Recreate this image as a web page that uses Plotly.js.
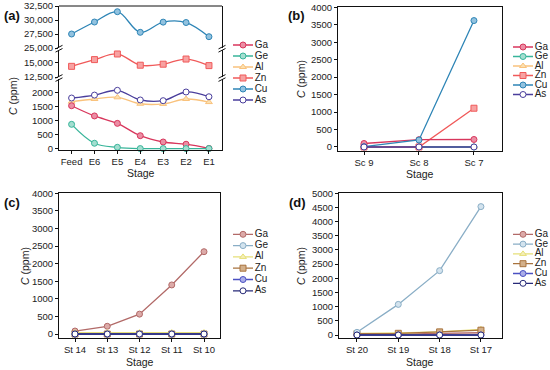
<!DOCTYPE html>
<html><head><meta charset="utf-8">
<script src="https://cdn.plot.ly/plotly-3.0.1.min.js"></script>
<style>html,body{margin:0;padding:0;background:#fff}#chart{width:550px;height:370px}</style>
</head><body><div id="chart"></div>
<script>
// ---------- data ----------
const elements = ['Ga', 'Ge', 'Al', 'Zn', 'Cu', 'As'];

const stagesA = ['Feed', 'E6', 'E5', 'E4', 'E3', 'E2', 'E1'];
const gaA = [1535, 1170, 905, 465, 240, 160, 10];
const geA = [870, 195, 50, 5, 5, 5, 5];
const alA = [1680, 1775, 1835, 1605, 1600, 1775, 1665];
const znA = [14400, 15600, 16600, 14600, 14780, 15700, 14530];
const cuA = [27500, 29640, 31480, 27800, 29620, 29550, 27020];
const asA = [1810, 1915, 2085, 1740, 1715, 2025, 1855];

const stagesB = ['Sc 9', 'Sc 8', 'Sc 7'];
const gaB = [100, 210, 215];
const geB = [0, 0, 0];
const alB = [5, 5, 5];
const znB = [0, 0, 1110];
const cuB = [10, 200, 3620];
const asB = [0, 0, 0];

const stagesC = ['St 14', 'St 13', 'St 12', 'St 11', 'St 10'];
const gaC = [85, 220, 565, 1395, 2340];
const geC = [0, 0, 0, 0, 0];
const alC = [40, 40, 40, 40, 40];
const znC = [0, 0, 0, 0, 0];
const cuC = [0, 0, 0, 0, 0];
const asC = [0, 0, 0, 0, 0];

const stagesD = ['St 20', 'St 19', 'St 18', 'St 17'];
const gaD = [30, 30, 60, 80];
const geD = [95, 1080, 2270, 4530];
const alD = [60, 70, 110, 200];
const znD = [50, 60, 110, 170];
const cuD = [0, 0, 0, 0];
const asD = [0, 0, 0, 0];

const ticksA_low = [0, 500, 1000, 1500, 2000];
const ticksA_mid = [12500, 15000];
const ticksA_top = [25000, 27500, 30000, 32500];
const ticksB = [0, 500, 1000, 1500, 2000, 2500, 3000, 3500, 4000];
const ticksC = [0, 500, 1000, 1500, 2000, 2500, 3000, 3500, 4000];
const ticksD = [0, 500, 1000, 1500, 2000, 2500, 3000, 3500, 4000, 4500, 5000];

// ---------- styles ----------
const symbols = ['circle', 'circle', 'triangle-up', 'square', 'circle', 'circle'];
const lineAB = ['#d8365c', '#38b59a', '#f9c27c', '#f05a5a', '#2e85b6', '#4a3e9c'];
const fillAB = ['#eb8ea4', '#a4ded0', '#fbe0b0', '#f7a2a2', '#92c2df', '#ffffff'];
const lineCD = ['#b26a68', '#8aaec6', '#e6df78', '#a8733e', '#4b51c2', '#272a78'];
const fillCD = ['#dcaaa8', '#d3e3ee', '#f4efb8', '#d3b08a', '#aaade8', '#ffffff'];

const FONT = 'Liberation Sans, Arial, sans-serif';
const W = 550, H = 370;
const px = v => v / W;
const py = v => 1 - v / H;

const traces = [];
function addSeries(x, y, i, xa, ya, colors, fills, spline) {
  traces.push({
    type: 'scatter', mode: 'lines+markers', x: x, y: y, name: elements[i],
    xaxis: xa, yaxis: ya, showlegend: false, cliponaxis: false,
    line: {color: colors[i], width: 1.3, shape: spline ? 'spline' : 'linear', smoothing: 1},
    marker: {symbol: symbols[i], size: 6, color: fills[i], line: {color: colors[i], width: 1}}
  });
}

// panel a
const seriesA = [gaA, geA, alA, znA, cuA, asA];
const yA = ['y', 'y', 'y', 'y2', 'y3', 'y'];
[2, 0, 1, 3, 4, 5].forEach(i => addSeries(stagesA, seriesA[i], i, 'x', yA[i], lineAB, fillAB, true));
// panel b
const seriesB = [gaB, geB, alB, znB, cuB, asB];
[2, 1, 3, 0, 4, 5].forEach(i => addSeries(stagesB, seriesB[i], i, 'x2', 'y4', lineAB, fillAB, false));
// panel c
const seriesC = [gaC, geC, alC, znC, cuC, asC];
[0, 3, 1, 2, 4, 5].forEach(i => addSeries(stagesC, seriesC[i], i, 'x3', 'y5', lineCD, fillCD, false));
// panel d
const seriesD = [gaD, geD, alD, znD, cuD, asD];
[0, 2, 3, 1, 4, 5].forEach(i => addSeries(stagesD, seriesD[i], i, 'x4', 'y6', lineCD, fillCD, false));

// compact legends drawn on hidden axes
function addLegend(xa, ya, colors, fills) {
  elements.forEach((name, i) => {
    traces.push({
      type: 'scatter', mode: 'lines+markers+text', x: [0, 0.5, 1], y: [i, i, i],
      text: ['', '', name], textposition: 'middle right',
      textfont: {family: FONT, size: 10, color: '#222'},
      xaxis: xa, yaxis: ya, showlegend: false, cliponaxis: false, hoverinfo: 'skip',
      line: {color: colors[i], width: 1.3},
      marker: {symbol: symbols[i], size: [1, 6, 1], opacity: [0, 1, 0], color: fills[i], line: {color: colors[i], width: 1}}
    });
  });
}
addLegend('x5', 'y7', lineAB, fillAB);
addLegend('x6', 'y8', lineAB, fillAB);
addLegend('x7', 'y9', lineCD, fillCD);
addLegend('x8', 'y10', lineCD, fillCD);

// ---------- axes ----------
const tickF = {family: FONT, size: 9.5, color: '#222'};
function xAx(dom, anchor, range, mirror) {
  return {domain: [px(dom[0]), px(dom[1])], anchor: anchor, type: 'category', range: range,
    showline: true, linecolor: '#111', linewidth: 1, mirror: mirror, ticks: 'outside', ticklen: 3,
    tickcolor: '#111', showgrid: false, zeroline: false, tickfont: tickF, fixedrange: true};
}
function yAx(dom, anchor, range, tickvals, fmt) {
  return {domain: [py(dom[1]), py(dom[0])], anchor: anchor, range: range, tickvals: tickvals,
    tickformat: fmt, showline: true, linecolor: '#111', linewidth: 1, mirror: true, ticks: 'outside',
    ticklen: 3, tickcolor: '#111', showgrid: false, zeroline: false, tickfont: tickF, fixedrange: true};
}
function hidAx(dom, range, isY) {
  const d = isY ? [py(dom[1]), py(dom[0])] : [px(dom[0]), px(dom[1])];
  return {domain: d, range: range, visible: false, fixedrange: true, showgrid: false, zeroline: false};
}

const layout = {
  width: W, height: H, margin: {l: 0, r: 0, t: 0, b: 0},
  paper_bgcolor: '#fff', plot_bgcolor: 'rgba(0,0,0,0)', showlegend: false,
  font: {family: FONT, color: '#222'},
  xaxis: xAx([59, 222], 'y', [-0.55, 6.57], false),
  yaxis: yAx([79, 150], 'x', [-46, 2489], ticksA_low, 'd'),
  yaxis2: yAx([49.5, 77], 'x', [12500, 17400], ticksA_mid, ',d'),
  yaxis3: yAx([6, 48], 'x', [25000, 32500], ticksA_top, ',d'),
  xaxis2: xAx([338, 502], 'y4', [-0.473, 2.51], true),
  yaxis4: yAx([7.3, 151], 'x2', [-115, 4000], ticksB, 'd'),
  xaxis3: xAx([59, 220], 'y5', [-0.496, 4.496], true),
  yaxis5: yAx([193.3, 337.7], 'x3', [-105, 4000], ticksC, 'd'),
  xaxis4: xAx([339, 502], 'y6', [-0.435, 3.51], true),
  yaxis6: yAx([193.3, 337.7], 'x4', [-95, 5000], ticksD, 'd'),
  xaxis5: hidAx([233, 253], [0, 1], false),
  yaxis7: Object.assign(hidAx([39.5, 105.5], [5.5, -0.5], true), {anchor: 'x5'}),
  xaxis6: hidAx([513, 533], [0, 1], false),
  yaxis8: Object.assign(hidAx([42.25, 99.25], [5.5, -0.5], true), {anchor: 'x6'}),
  xaxis7: hidAx([233, 253], [0, 1], false),
  yaxis9: Object.assign(hidAx([228.65, 296.45], [5.5, -0.5], true), {anchor: 'x7'}),
  xaxis8: hidAx([513, 533], [0, 1], false),
  yaxis10: Object.assign(hidAx([229.4, 288.2], [5.5, -0.5], true), {anchor: 'x8'}),
  annotations: [],
  shapes: []
};
layout.xaxis5.anchor = 'y7'; layout.xaxis6.anchor = 'y8';
layout.xaxis7.anchor = 'y9'; layout.xaxis8.anchor = 'y10';

// titles
const titleF = {family: FONT, size: 10.5, color: '#222'};
function ann(x, y, text, opts) {
  layout.annotations.push(Object.assign({xref: 'paper', yref: 'paper', x: px(x), y: py(y), text: text,
    showarrow: false, font: titleF, xanchor: 'center', yanchor: 'middle'}, opts || {}));
}
ann(140.5, 173, 'Stage'); ann(420, 174, 'Stage'); ann(140, 362, 'Stage'); ann(420, 362, 'Stage');
ann(13, 96, '<i>C</i> (ppm)', {textangle: -90});
ann(301, 79, '<i>C</i> (ppm)', {textangle: -90});
ann(25, 266, '<i>C</i> (ppm)', {textangle: -90});
ann(301, 266, '<i>C</i> (ppm)', {textangle: -90});
const labF = {family: FONT, size: 13, color: '#111'};
ann(2, 15, '<b>(a)</b>', {xanchor: 'left', font: labF});
ann(286, 15, '<b>(b)</b>', {xanchor: 'left', font: labF});
ann(2, 202, '<b>(c)</b>', {xanchor: 'left', font: labF});
ann(287, 203, '<b>(d)</b>', {xanchor: 'left', font: labF});

// panel (a) top border + axis-break marks
layout.shapes.push({type: 'line', xref: 'paper', yref: 'paper', x0: px(59), x1: px(222), y0: py(6), y1: py(6),
  line: {color: '#111', width: 1}});
[[59, 48.7], [222, 48.7], [59, 78], [222, 78]].forEach(([bx, by]) => {
  [-1.6, 1.6].forEach(off => {
    layout.shapes.push({type: 'line', xref: 'paper', yref: 'paper',
      x0: px(bx - 3.5), y0: py(by + off + 1.8), x1: px(bx + 3.5), y1: py(by + off - 1.8),
      line: {color: '#111', width: 1}});
  });
});

Plotly.newPlot('chart', traces, layout, {displayModeBar: false, staticPlot: true});
</script>
</body></html>
